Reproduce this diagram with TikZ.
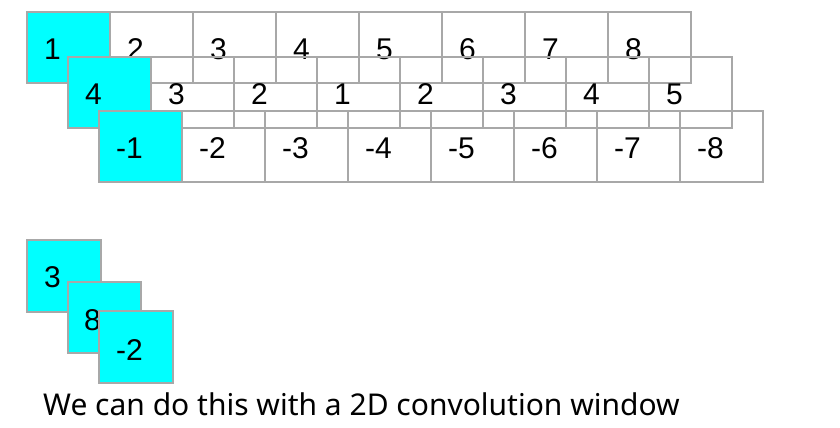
\documentclass[tikz,border=0pt]{standalone}
\usepackage{fontspec}
\setmainfont{Liberation Sans}
\newfontfamily\capfont{Noto Sans}
\definecolor{cellgray}{HTML}{A8A8A8}
\definecolor{hotcyan}{HTML}{00FFFF}
\begin{document}
\begin{tikzpicture}[x=1pt,y=-1pt,
  cell/.style={draw=cellgray, line width=1.3pt},
  hotfill/.style={fill=hotcyan},
  lbl/.style={anchor=base west, inner sep=0pt, font=\fontsize{30}{36}\selectfont}]
\useasboundingbox (0,0) rectangle (840,428);
% row 1
\fill[hotfill] (27,12) rectangle ++(83,71);
\foreach \lab [count=\i from 0] in {1,2,3,4,5,6,7,8} {
  \draw[cell] ({27+83*\i},12) rectangle ++(83,71);
  \node[lbl] (ra\i) at ({27+83*\i+17},59.5) {\lab};
}
% row 2
\fill[hotfill] (68,57) rectangle ++(82,71);
\foreach \lab [count=\i from 0] in {4,3,2,1,2,3,4,5} {
  \draw[cell] ({68+83*\i},57) rectangle ++(83,71);
  \node[lbl] (rb\i) at ({68+83*\i+17},104.5) {\lab};
}
% row 3
\fill[hotfill] (99,111) rectangle ++(83,71);
\foreach \lab [count=\i from 0] in {-1,-2,-3,-4,-5,-6,-7,-8} {
  \draw[cell] ({99+83*\i},111) rectangle ++(83,71);
  \node[lbl] (rc\i) at ({99+83*\i+17},158.5) {\lab};
}
% window
\draw[cell, hotfill] (27,240) rectangle (101,312);
\node[lbl] (wa) at (44,287) {3};
\draw[cell, hotfill] (68,282) rectangle (141,353);
\node[lbl] (wb) at (84,330) {8};
\draw[cell, hotfill] (99,311) rectangle (173,383);
\node[lbl] (wc) at (116,360) {-2};
\node[lbl, font=\capfont\fontsize{30}{36}\selectfont] (caption) at (43,415) {We can do this with a 2D convolution window};
\end{tikzpicture}
\end{document}
